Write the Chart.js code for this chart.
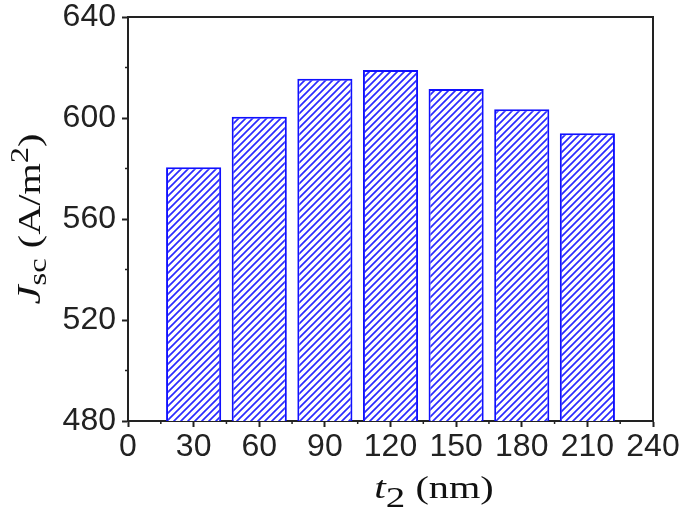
<!DOCTYPE html>
<html>
<head>
<meta charset="utf-8">
<script src="https://cdn.jsdelivr.net/npm/chart.js@4"></script>
<style>
  html, body { margin: 0; padding: 0; background: #fff; }
  #wrap { width: 685px; height: 513px; }
</style>
</head>
<body>
<div id="wrap"><canvas id="myChart"></canvas></div>
<script>
// data
const thickness = [30, 60, 90, 120, 150, 180, 210];
const jsc = [580.5, 600.5, 615.5, 619, 611.5, 603.5, 594];
const xTicks = [0, 30, 60, 90, 120, 150, 180, 210, 240];
const yTicks = [480, 520, 560, 600, 640];

// hatch fill
function hatch() {
  const c = document.createElement("canvas");
  const s = 7;
  c.width = s;
  c.height = s;
  const g = c.getContext("2d");
  g.fillStyle = "#fff";
  g.fillRect(0, 0, s, s);
  g.strokeStyle = "#2b2bff";
  g.lineWidth = 1.7;
  g.beginPath();
  g.moveTo(-1, s + 1);
  g.lineTo(s + 1, -1);
  g.moveTo(-1, 1);
  g.lineTo(1, -1);
  g.moveTo(s - 1, s + 1);
  g.lineTo(s + 1, s - 1);
  g.stroke();
  return g.createPattern(c, "repeat");
}

const axisColor = "#222";
const tickFont = { family: "'Liberation Sans', Arial", size: 32 };

// frame, minor ticks and axis titles
const extras = {
  id: "extras",
  afterDraw(chart) {
    const { ctx, chartArea: a, scales } = chart;
    ctx.save();
    ctx.strokeStyle = axisColor;
    ctx.lineWidth = 2;
    ctx.beginPath();
    ctx.moveTo(a.left, a.top);
    ctx.lineTo(a.right, a.top);
    ctx.lineTo(a.right, a.bottom);
    ctx.stroke();

    ctx.lineWidth = 1.5;
    ctx.beginPath();
    for (let v = 15; v < 240; v += 30) {
      const px = scales.x.getPixelForValue(v);
      ctx.moveTo(px, a.bottom);
      ctx.lineTo(px, a.bottom + 3);
    }
    for (let v = 500; v < 640; v += 40) {
      const py = scales.y.getPixelForValue(v);
      ctx.moveTo(a.left, py);
      ctx.lineTo(a.left - 3, py);
    }
    ctx.stroke();

    ctx.fillStyle = "#111";
    ctx.textBaseline = "alphabetic";
    const serif = "'Liberation Serif', 'Times New Roman', serif";

    // x title
    const xParts = [
      { t: "t", f: "italic 32px " + serif, dy: 0 },
      { t: "2", f: "30px " + serif, dy: 9 },
      { t: " (nm)", f: "31px " + serif, dy: 0 },
    ];
    ctx.save();
    ctx.translate(434, 498);
    ctx.scale(1.3, 1);
    drawParts(ctx, xParts, 0, 0);
    ctx.restore();

    // y title
    ctx.translate(40, (a.top + a.bottom) / 2);
    ctx.rotate(-Math.PI / 2);
    ctx.scale(1.3, 1);
    const yParts = [
      { t: "J", f: "italic 33px " + serif, dy: 0 },
      { t: "sc", f: "25px " + serif, dy: 6 },
      { t: " (A/m", f: "31px " + serif, dy: 0 },
      { t: "2", f: "25px " + serif, dy: -12 },
      { t: ")", f: "31px " + serif, dy: 0 },
    ];
    drawParts(ctx, yParts, 0, 0);
    ctx.restore();
  },
};

function drawParts(ctx, parts, cx, y) {
  let w = 0;
  parts.forEach((p) => {
    ctx.font = p.f;
    w += ctx.measureText(p.t).width;
  });
  let x = cx - w / 2;
  parts.forEach((p) => {
    ctx.font = p.f;
    ctx.fillText(p.t, x, y + p.dy);
    x += ctx.measureText(p.t).width;
  });
}

function noPad(s) {
  s.paddingTop = 0;
  s.paddingBottom = 0;
}

const config = {
  type: "bar",
  data: {
    datasets: [
      {
        data: thickness.map((t, i) => ({ x: t, y: jsc[i] })),
        backgroundColor: hatch(),
        borderColor: "#1010ff",
        borderWidth: 2,
        borderSkipped: false,
        barPercentage: 0.84,
        categoryPercentage: 1,
      },
    ],
  },
  options: {
    responsive: true,
    maintainAspectRatio: false,
    animation: false,
    layout: { padding: { left: 0, top: 17, right: 32, bottom: 0 } },
    plugins: { legend: { display: false }, tooltip: { enabled: false } },
    scales: {
      x: {
        type: "linear",
        min: 0,
        max: 240,
        offset: false,
        afterBuildTicks: (s) => { s.ticks = xTicks.map((v) => ({ value: v })); },
        afterFit: (s) => { s.height = 92; },
        grid: { drawOnChartArea: false, offset: false, tickLength: 6, tickColor: axisColor, tickWidth: 2 },
        border: { color: axisColor, width: 2 },
        ticks: { font: tickFont, color: "#222", padding: 1, maxRotation: 0, autoSkip: false },
      },
      y: {
        min: 480,
        max: 640,
        afterBuildTicks: (s) => { s.ticks = yTicks.map((v) => ({ value: v })); },
        afterFit: (s) => { s.width = 128; noPad(s); },
        grid: { drawOnChartArea: false, tickLength: 6, tickColor: axisColor, tickWidth: 2 },
        border: { color: axisColor, width: 2 },
        ticks: { font: tickFont, color: "#222", padding: 6 },
      },
    },
  },
  plugins: [extras],
};

const myChart = new Chart(document.getElementById("myChart"), config);
</script>
</body>
</html>
